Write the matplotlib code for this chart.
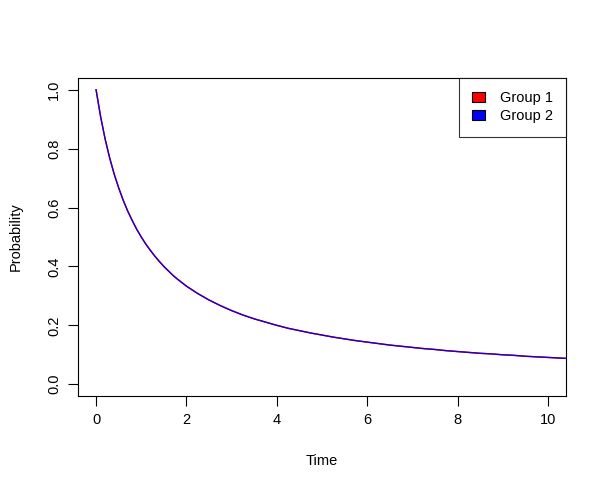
import numpy as np
import matplotlib.pyplot as plt

plt.rcParams['font.family'] = ['Liberation Sans', 'DejaVu Sans']

# values (both groups nearly coincide)
time = [0, 0.1, 0.2, 0.3, 0.4, 0.5, 0.6, 0.7, 0.8, 0.9, 1, 1.1, 1.2, 1.3,
        1.4, 1.5, 1.6, 1.7, 1.8, 1.9, 2, 2.25, 2.5, 2.75, 3, 3.25,
        3.5, 3.75, 4, 4.25, 4.5, 4.75, 5, 5.25, 5.5, 5.75, 6, 6.25, 6.5, 6.75,
        7, 7.25, 7.5, 7.75, 8, 8.25, 8.5, 8.75, 9, 9.25, 9.5, 9.75, 10, 10.5]
group1 = [1.0, 0.909, 0.833, 0.769, 0.714, 0.667, 0.625, 0.588, 0.556, 0.526,
          0.5, 0.476, 0.455, 0.435, 0.417, 0.4, 0.385, 0.37, 0.357, 0.345,
          0.333, 0.308, 0.286,
          0.267, 0.25, 0.235, 0.222, 0.211, 0.2, 0.19, 0.182, 0.174, 0.167,
          0.16, 0.154, 0.148, 0.143, 0.138, 0.133, 0.129, 0.125, 0.121, 0.118,
          0.114, 0.111, 0.108, 0.105, 0.103, 0.1, 0.098, 0.095, 0.093, 0.091,
          0.087]
group2 = [1.0, 0.909, 0.833, 0.769, 0.714, 0.667, 0.625, 0.588, 0.556, 0.526,
          0.5, 0.476, 0.455, 0.435, 0.417, 0.4, 0.385, 0.37, 0.357, 0.345,
          0.333, 0.308, 0.286,
          0.267, 0.25, 0.235, 0.222, 0.211, 0.2, 0.19, 0.182, 0.174, 0.167,
          0.16, 0.154, 0.148, 0.143, 0.138, 0.133, 0.129, 0.125, 0.121, 0.118,
          0.114, 0.111, 0.108, 0.105, 0.103, 0.1, 0.098, 0.095, 0.093, 0.091,
          0.087]
labels = ['Group 1', 'Group 2']
colors = ['#ff0000', '#0000ff']

fig = plt.figure(figsize=(6.07, 4.92), dpi=100)
ax = fig.add_axes([0.1285, 0.1951, 0.804, 0.6464])

ax.plot(time, group1, color=colors[0], lw=1.0)
ax.plot(time, group2, color='#1a00c8', lw=1.0)

ax.set_xlim(-0.4, 10.4)
ax.set_ylim(-0.04, 1.04)
ax.set_xticks([0, 2, 4, 6, 8, 10])
ax.set_yticks([0.0, 0.2, 0.4, 0.6, 0.8, 1.0])
ax.set_yticklabels(['0.0', '0.2', '0.4', '0.6', '0.8', '1.0'], rotation=90, va='center')
ax.tick_params(direction='out', length=7, width=0.8, labelsize=10.5, pad=5)
for s in ax.spines.values():
    s.set_linewidth(0.8)

ax.set_xlabel('Time', fontsize=10.5, labelpad=20)
ax.set_ylabel('Probability', fontsize=10.5, labelpad=18)

handles = [plt.Rectangle((0, 0), 1, 1, facecolor=c, edgecolor='black', lw=0.8) for c in colors]
leg = ax.legend(handles, labels, loc='upper right', bbox_to_anchor=(1.0, 1.0),
                fontsize=10.5, frameon=True, fancybox=False, borderaxespad=0,
                handlelength=0.9, handleheight=0.7, handletextpad=1.0,
                borderpad=0.9, labelspacing=0.3)
leg.get_frame().set_edgecolor('black')
leg.get_frame().set_linewidth(0.8)

plt.savefig('out.png', dpi=100)
